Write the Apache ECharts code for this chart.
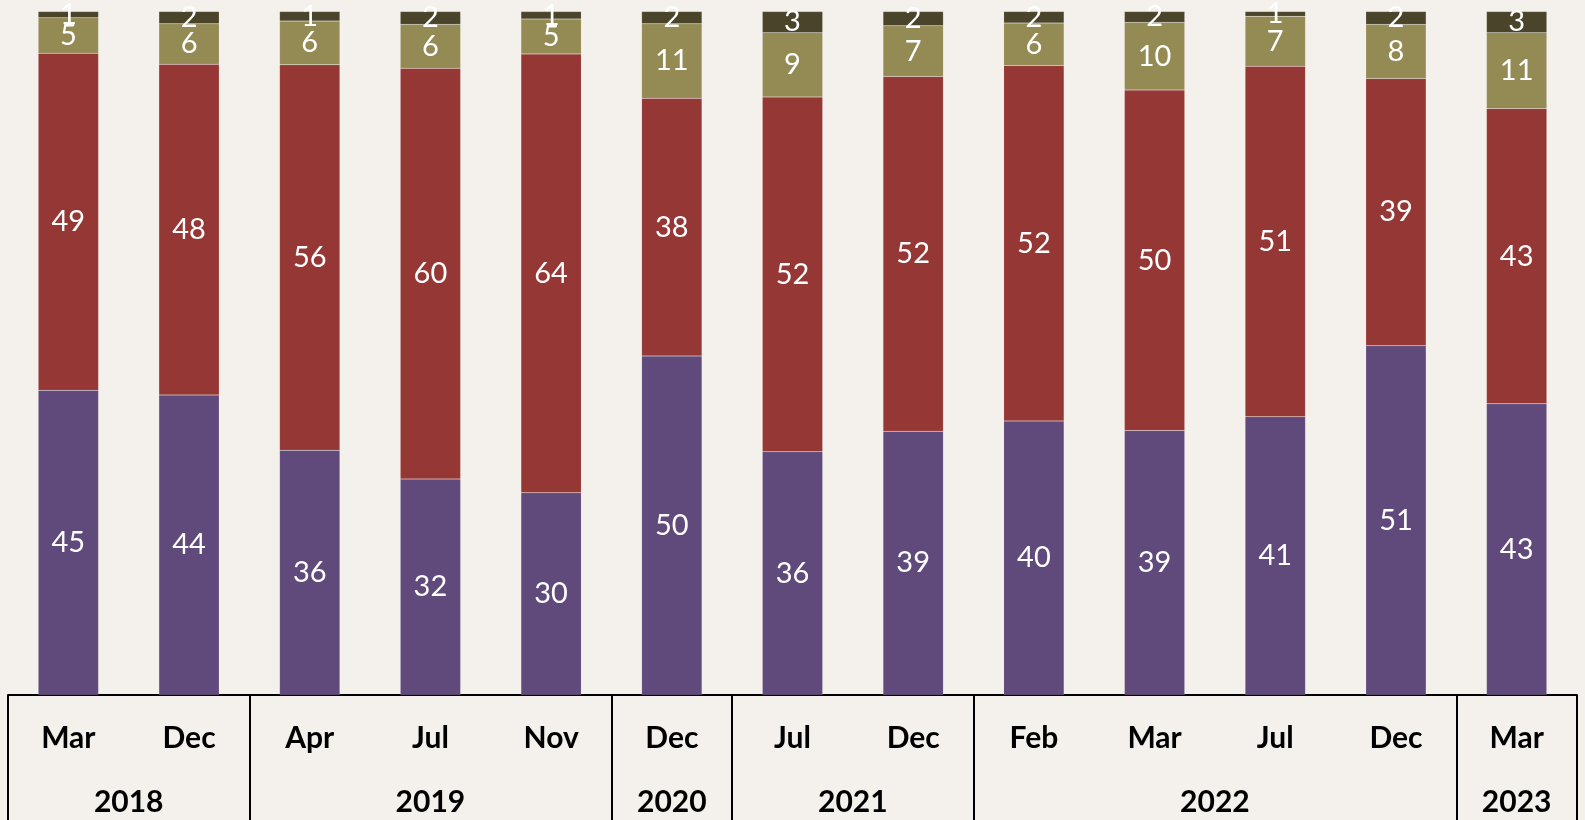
<!DOCTYPE html>
<html>
<head>
<meta charset="utf-8">
<script src="https://cdn.jsdelivr.net/npm/echarts@6/dist/echarts.min.js"></script>
<style>
  html, body { margin: 0; padding: 0; background: #f4f1ec; }
  #chart { width: 1585px; height: 820px; }
</style>
</head>
<body>
<div id="chart"></div>
<script>
// months on the category axis
const months = ['Mar', 'Dec', 'Apr', 'Jul', 'Nov', 'Dec', 'Jul', 'Dec', 'Feb', 'Mar', 'Jul', 'Dec', 'Mar']
// year groups: label + number of months in the group
const years = ['2018', '2019', '2020', '2021', '2022', '2023']
const yearCounts = [2, 3, 1, 2, 4, 1]

// shares (%), bottom to top
const purpleVals = [44.6, 43.9, 35.8, 31.6, 29.6, 49.6, 35.6, 38.6, 40.1, 38.7, 40.7, 51.1, 42.6]
const redVals = [49.3, 48.4, 56.4, 60.1, 64.2, 37.7, 51.9, 51.9, 52.0, 49.8, 51.3, 39.1, 43.2]
const oliveVals = [5.2, 5.9, 6.4, 6.4, 5.1, 10.9, 9.4, 7.4, 6.2, 9.9, 7.3, 7.9, 11.1]
const darkVals = [0.9, 1.8, 1.4, 1.9, 1.1, 1.8, 3.1, 2.1, 1.7, 1.6, 0.7, 1.9, 3.1]

// where each year group starts, and where its label sits
const groupStarts = []
const yearPos = {}
let acc = 0
yearCounts.forEach((n, i) => {
  groupStarts.push(acc)
  yearPos[(acc + n / 2).toFixed(1)] = years[i]
  acc += n
})

const chart = echarts.init(document.getElementById('chart'))

const labelStyle = {
  show: true,
  position: 'inside',
  color: '#ffffff',
  fontFamily: 'Lato',
  fontSize: 29,
  formatter: p => Math.round(p.value)
}

const makeSeries = (name, data, color) => ({
  name,
  type: 'bar',
  stack: 'total',
  barWidth: '50%',
  data,
  itemStyle: { color, borderColor: 'rgba(255,255,255,0.2)', borderWidth: 0.5 },
  label: labelStyle
})

chart.setOption({
  backgroundColor: '#f4f1ec',
  animation: false,
  grid: { left: 8, right: 8, top: 11.5, bottom: 125 },
  xAxis: [
    {
      type: 'category',
      data: months,
      axisLine: { show: true, lineStyle: { color: '#000', width: 2 } },
      axisTick: {
        show: true,
        length: 140,
        interval: (index) => groupStarts.includes(index),
        lineStyle: { color: '#000', width: 2 }
      },
      axisLabel: {
        interval: 0,
        margin: 28,
        color: '#000',
        fontFamily: 'Lato',
        fontWeight: 'bold',
        fontSize: 30
      }
    },
    {
      type: 'value',
      position: 'bottom',
      min: 0,
      max: months.length,
      interval: 0.5,
      axisLine: { show: false },
      axisTick: { show: false },
      splitLine: { show: false },
      axisLabel: {
        margin: 92,
        color: '#000',
        fontFamily: 'Lato',
        fontWeight: 'bold',
        fontSize: 30,
        formatter: v => yearPos[v.toFixed(1)] || ''
      }
    }
  ],
  yAxis: { type: 'value', min: 0, max: 100, show: false },
  series: [
    makeSeries('purple', purpleVals, '#604a7b'),
    makeSeries('red', redVals, '#953735'),
    makeSeries('olive', oliveVals, '#948a54'),
    makeSeries('dark', darkVals, '#4a452a')
  ]
})
</script>
</body>
</html>
